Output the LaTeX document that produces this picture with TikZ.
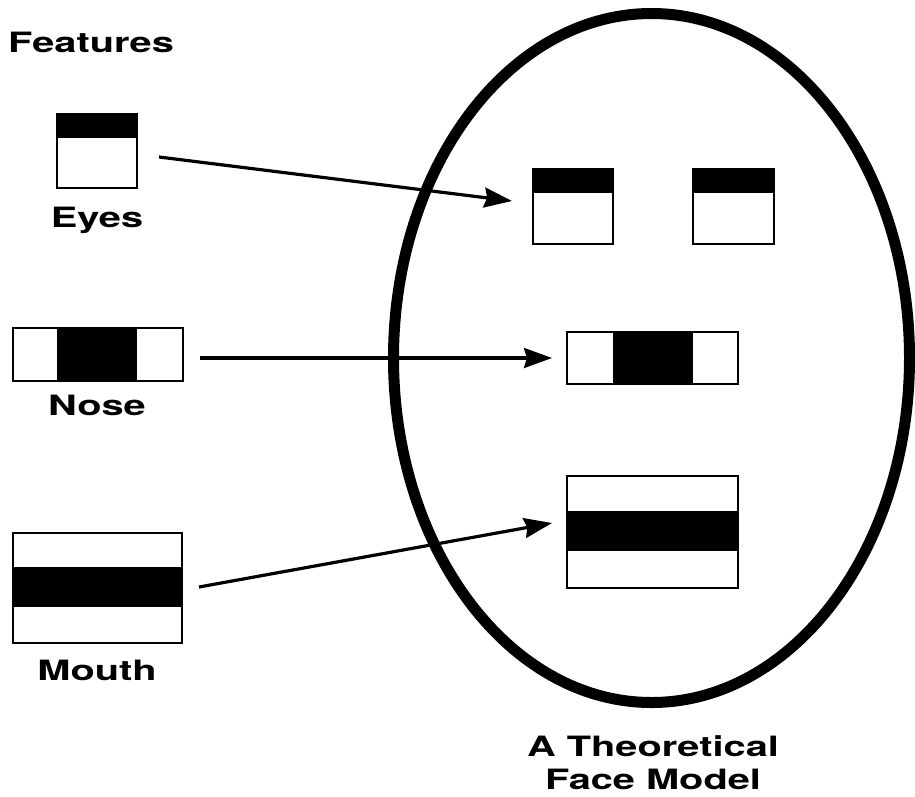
\documentclass[tikz,border=0pt]{standalone}
\usepackage{fontspec}
\setmainfont{TeX Gyre Heros}
\usetikzlibrary{arrows.meta}
\newcommand{\wtxt}[1]{\scalebox{1.42}[1]{\bfseries #1}}
\tikzset{
  lbl/.style={inner sep=0pt, anchor=base, font=\fontsize{28}{32}\selectfont},
  frame/.style={draw=black, line width=2.2pt, fill=none},
  band/.style={fill=black, draw=none},
  conn/.style={line width=3.2pt, -{Stealth[length=28pt,width=20pt,inset=3pt]}},
  face/.style={draw=black, line width=11pt}
}
\begin{document}
\begin{tikzpicture}[x=1pt,y=-1pt]
\useasboundingbox (0,0) rectangle (915,796);
\fill[white] (0,0) rectangle (915,796);

% face outline
\draw[face] (651.5,358) ellipse [x radius=258, y radius=344.5];

% titles
\node[lbl, anchor=base west] (features) at (8,52) {\wtxt{Features}};
\node[lbl] (eyeslbl) at (97,227) {\wtxt{Eyes}};
\node[lbl] (noselbl) at (97,415) {\wtxt{Nose}};
\node[lbl] (mouthlbl) at (97,680) {\wtxt{Mouth}};
\node[lbl] (model1) at (653,756) {\wtxt{A Theoretical}};
\node[lbl] (model2) at (653,789) {\wtxt{Face Model}};

% left eye feature
\fill[band] (57,114) rectangle (137,138);
\node[frame, inner sep=0pt, minimum width=80pt, minimum height=74pt] (eyeL) at (97,151) {};
% left nose feature
\fill[band] (57,328) rectangle (137,381);
\node[frame, inner sep=0pt, minimum width=170pt, minimum height=53pt] (noseL) at (98,354.5) {};
% left mouth feature
\fill[band] (13,567) rectangle (182,607);
\node[frame, inner sep=0pt, minimum width=169pt, minimum height=110pt] (mouthL) at (97.5,588) {};

% face eyes
\fill[band] (533,169) rectangle (613,193);
\node[frame, inner sep=0pt, minimum width=80pt, minimum height=75pt] (eyeR1) at (573,206.5) {};
\fill[band] (693,169) rectangle (774,193);
\node[frame, inner sep=0pt, minimum width=81pt, minimum height=75pt] (eyeR2) at (733.5,206.5) {};
% face nose
\fill[band] (613,332) rectangle (693,384);
\node[frame, inner sep=0pt, minimum width=171pt, minimum height=52pt] (noseR) at (652.5,358) {};
% face mouth
\fill[band] (567,511) rectangle (738,551);
\node[frame, inner sep=0pt, minimum width=171pt, minimum height=112pt] (mouthR) at (652.5,532) {};

% connector end points
\coordinate (e1) at (159,157);
\coordinate (e2) at (512,201);
\coordinate (n1) at (200,358);
\coordinate (n2) at (552,358);
\coordinate (m1) at (199,587);
\coordinate (m2) at (552,523);

\draw[conn] (e1) -- (e2);
\draw[conn] (n1) -- (n2);
\draw[conn] (m1) -- (m2);
\end{tikzpicture}
\end{document}
